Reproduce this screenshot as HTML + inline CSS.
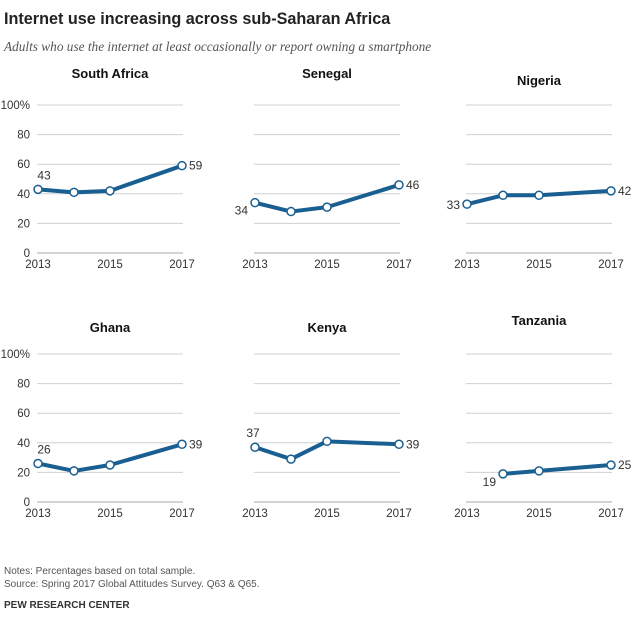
<!DOCTYPE html>
<html><head><meta charset="utf-8"><style>
body{margin:0;background:#fff;}
svg text{font-family:"Liberation Sans",sans-serif;}
</style></head><body>
<svg width="640" height="627" viewBox="0 0 640 627" xmlns="http://www.w3.org/2000/svg" id="chart">
<text x="4" y="24" font-size="16.2" font-weight="bold" fill="#222">Internet use increasing across sub-Saharan Africa</text>
<text x="4" y="51" font-size="13.3" font-style="italic" fill="#555" style="font-family:'Liberation Serif',serif">Adults who use the internet at least occasionally or report owning a smartphone</text>
<text x="4" y="574" font-size="10" fill="#555">Notes: Percentages based on total sample.</text>
<text x="4" y="587" font-size="10" fill="#555">Source: Spring 2017 Global Attitudes Survey. Q63 &amp; Q65.</text>
<text x="4" y="608" font-size="10" font-weight="bold" fill="#333">PEW RESEARCH CENTER</text>
<g id="panels"></g>
</svg>
<script>
const countries=["South Africa","Senegal","Nigeria","Ghana","Kenya","Tanzania"];
const years=[2013,2014,2015,2017];
const saValues=[43,41,42,59];
const senegalValues=[34,28,31,46];
const nigeriaValues=[33,39,39,42];
const ghanaValues=[26,21,25,39];
const kenyaValues=[37,29,41,39];
const tanzaniaValues=[null,19,21,25];
const yTicks=[0,20,40,60,80,100];
const xTickLabels=[2013,2015,2017];
const series=[saValues,senegalValues,nigeriaValues,ghanaValues,kenyaValues,tanzaniaValues];
const NS="http://www.w3.org/2000/svg";
const root=document.getElementById('panels');
function mk(tag,attrs,parent){const e=document.createElementNS(NS,tag);for(const k in attrs)e.setAttribute(k,attrs[k]);parent.appendChild(e);return e;}
const colX=[38,255,467], rowY0=[253,502];
const titleY=[[78,78,85],[332,332,325]];
series.forEach((vals,i)=>{
  const col=i%3,row=Math.floor(i/3);
  const x0=colX[col],y0=rowY0[row];
  const xs=y=>x0+(y-2013)*36;
  const ys=v=>y0-v*1.48;
  const g=mk('g',{},root);
  
  
  const t=mk('text',{x:x0+72,y:titleY[row][col],'font-size':13,'font-weight':'bold','text-anchor':'middle',fill:'#111'},g);
  t.textContent=countries[i];
  
  
  yTicks.forEach(v=>{
    const l=mk('line',{x1:x0-1,x2:x0+145,y1:ys(v),y2:ys(v),stroke:v===0?'#aaa':'#d0d0d0','stroke-width':1},g);
    
    
    if(col===0){
      const tl=mk('text',{x:x0-8,y:ys(v)+4,'font-size':11.5,'text-anchor':'end',fill:'#333'},g);
      tl.textContent=v===100?'100%':v;
      
      
    }
  });
  xTickLabels.forEach(y=>{
    const tl=mk('text',{x:xs(y),y:y0+15,'font-size':11.5,'text-anchor':'middle',fill:'#333'},g);
    tl.textContent=y;
    
    
  });
  const pts=[];
  vals.forEach((v,j)=>{if(v!==null)pts.push([xs(years[j]),ys(v),v]);});
  const p=mk('polyline',{points:pts.map(q=>q[0]+','+q[1]).join(' '),fill:'none',stroke:'#1a5f91','stroke-width':4,'stroke-linejoin':'round'},g);
  
  
  pts.forEach(q=>{
    const c=mk('circle',{cx:q[0],cy:q[1],r:4,fill:'#fff',stroke:'#1a5f91','stroke-width':1.5},g);
    
    
  });
  const f=pts[0],l=pts[pts.length-1];
  const fl=mk('text',{'font-size':12,fill:'#333'},g);
  if(i===0||i===3){fl.setAttribute('x',f[0]+6);fl.setAttribute('y',f[1]-10);fl.setAttribute('text-anchor','middle');}
  else if(i===4){fl.setAttribute('x',f[0]-2);fl.setAttribute('y',f[1]-10);fl.setAttribute('text-anchor','middle');}
  else{fl.setAttribute('x',f[0]-7);fl.setAttribute('y',f[1]+(i===1||i===5?12:5));fl.setAttribute('text-anchor','end');}
  fl.textContent=f[2];
  
  
  const ll=mk('text',{x:l[0]+7,y:l[1]+4,'font-size':12,fill:'#333'},g);
  ll.textContent=l[2];
  
  
});
</script>
</body></html>
